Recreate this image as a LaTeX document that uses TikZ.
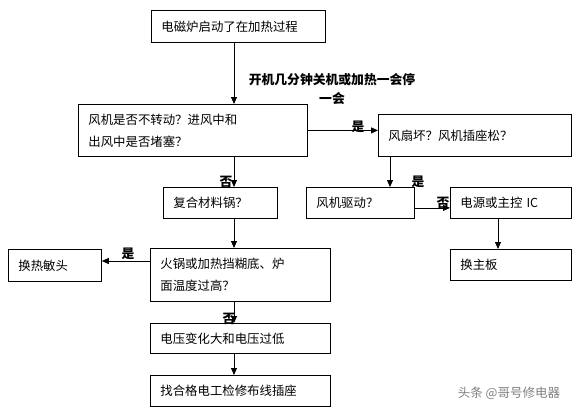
\documentclass[tikz,border=0pt]{standalone}
\usepackage{fontspec}
\setmainfont{Noto Sans CJK SC}
\usetikzlibrary{positioning}
\usetikzlibrary{arrows.meta}

\begin{document}
\begin{tikzpicture}[x=1pt, y=-1pt,
                    box/.style={draw, line width=0.8pt, anchor=north west, inner xsep=10pt,
                                align=left, font=\fontsize{12.4}{22}\selectfont},
                    lbl/.style={inner sep=0pt, font=\bfseries\fontsize{12.8}{19}\selectfont},
                    arr/.style={draw, line width=0.8pt, -{Triangle[length=7pt,width=6pt]}}]
    \useasboundingbox (0,0) rectangle (582,415);
    \coordinate (col) at (234,0);

    % boxes
    \node[box, minimum width=174pt, minimum height=32pt, text width=154pt] (start) at (151,10) {电磁炉启动了在加热过程};
    \node[box, minimum width=229pt, minimum height=52pt, text width=209pt] (fan) at (78,104) {风机是否不转动？进风中和\\出风中是否堵塞？};
    \node[box, minimum width=193pt, minimum height=42pt, text width=173pt] (fanbad) at (378,114) {风扇坏？风机插座松？};
    \node[box, minimum width=108pt, minimum height=31pt, text width=88pt] (drive) at (306,187) {风机驱动？};
    \node[box, minimum width=121pt, minimum height=31pt, text width=101pt] (power) at (450,187) {电源或主控 IC};
    \node[box, minimum width=121pt, minimum height=31pt, text width=101pt] (board) at (450,249) {换主板};
    \node[box, minimum width=114pt, minimum height=31pt, text width=94pt] (pot) at (163,187) {复合材料锅？};
    \node[box, minimum width=180pt, minimum height=53pt, text width=160pt] (hot) at (150,248) {火锅或加热挡糊底、炉\\面温度过高？};
    \node[box, minimum width=93pt, minimum height=32pt, text width=73pt] (sensor) at (8,249) {换热敏头};
    \node[box, minimum width=180pt, minimum height=30pt, text width=160pt] (volt) at (150,323) {电压变化大和电压过低};
    \node[box, minimum width=180pt, minimum height=31pt, text width=160pt] (wiring) at (150,375) {找合格电工检修布线插座};

    % connectors
    \coordinate (fx) at ([xshift=12pt]fanbad.south west);
    \coordinate (px) at ([xshift=48pt]power.south west);
    \coordinate (dy) at ([yshift=-5pt]drive.east);
    \coordinate (hy) at ([yshift=-13pt]hot.north west);
    \draw[arr] (start.south -| col) -- (fan.north -| col);
    \draw[arr] (fan.east) -- (fan.east -| fanbad.west);
    \draw[arr] (fan.south -| col) -- (pot.north -| col);
    \draw[arr] (fx) -- (fx |- drive.north);
    \draw[arr] (dy) -- (dy -| power.west);
    \draw[arr] (px) -- (px |- board.north);
    \draw[arr] (pot.south -| col) -- (hot.north -| col);
    \draw[arr] (hy) -- (hy -| sensor.east);
    \draw[arr] (hot.south -| col) -- (volt.north -| col);
    \draw[arr] (volt.south -| col) -- (wiring.north -| col);

    % labels
    \node[lbl, align=center] (stopnote) at (332,89) {开机几分钟关机或加热一会停\\一会};
    \node[lbl] (yesfan) at (358,127) {是};
    \node[lbl] (nofan) at (226,182) {否};
    \node[lbl] (yesdrive) at (418,182) {是};
    \node[lbl] (nodrive) at (443,203) {否};
    \node[lbl] (yeshot) at (128,254) {是};
    \node[lbl] (nohot) at (229,319) {否};
    \node[text=gray, font=\fontsize{12.5}{14}\selectfont] (mark) at (509,393) {头条 @哥号修电器};
\end{tikzpicture}
\end{document}
